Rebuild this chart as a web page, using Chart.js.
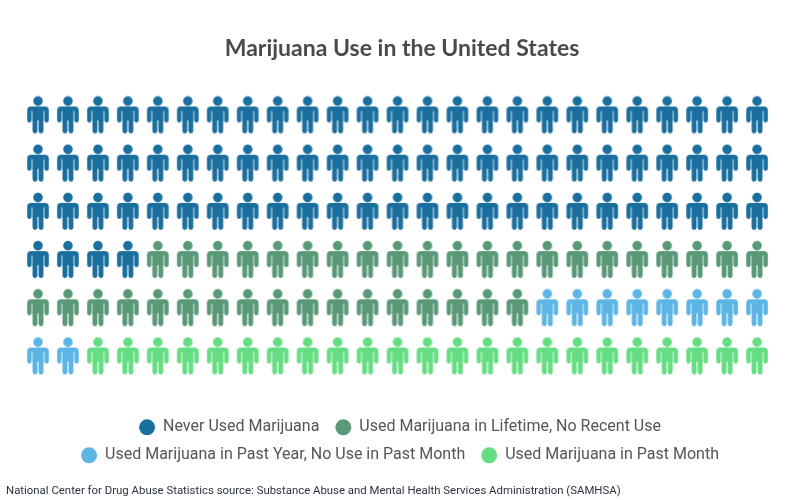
<!DOCTYPE html>
<html><head><meta charset="utf-8">
<style>html,body{margin:0;padding:0;background:#fff}#wrap{width:800px;height:500px}</style>
<script src="https://cdn.jsdelivr.net/npm/chart.js@4"></script>
</head><body><div id="wrap"><canvas id="c" width="800" height="500"></canvas></div>
<script>
const categories = ["Never Used Marijuana","Used Marijuana in Lifetime, No Recent Use","Used Marijuana in Past Year, No Use in Past Month","Used Marijuana in Past Month"];
const personCounts = [79,38,10,23];
const colors = ["#1b6f9f","#5a9977","#5db5e5","#65dd82"];
const titleText = "Marijuana Use in the United States";
const footerText = "National Center for Drug Abuse Statistics source: Substance Abuse and Mental Health Services Administration (SAMHSA)";
const perRow = 25;

function icon(color){
  const W=24,H=40,c=document.createElement('canvas');c.width=W;c.height=H;
  const g=c.getContext('2d');g.fillStyle=color;g.strokeStyle=color;g.lineCap='round';g.lineJoin='round';
  g.beginPath();g.arc(12,5.6,4.8,0,Math.PI*2);g.fill();
  g.beginPath();g.moveTo(6.4,11);g.lineTo(17.6,11);g.lineTo(17.6,25);g.lineTo(6.4,25);g.closePath();g.fill();
  g.lineWidth=4.4;
  g.beginPath();g.moveTo(3.4,24.8);g.lineTo(3.4,14.7);g.quadraticCurveTo(3.4,13.2,5,13.2);g.lineTo(19,13.2);g.quadraticCurveTo(20.6,13.2,20.6,14.7);g.lineTo(20.6,24.8);g.stroke();
  g.lineWidth=4.9;
  g.beginPath();g.moveTo(9,24);g.lineTo(9,35.6);g.stroke();
  g.beginPath();g.moveTo(15,24);g.lineTo(15,35.6);g.stroke();
  return c;
}
let n=0;
const datasets=categories.map((label,i)=>{
  const data=[];
  for(let k=0;k<personCounts[i];k++,n++) data.push({x:n%perRow+1,y:Math.floor(n/perRow)+1});
  return {label,data,pointStyle:icon(colors[i]),backgroundColor:colors[i],borderColor:colors[i],showLine:false};
});
Chart.defaults.devicePixelRatio=1;
new Chart(document.getElementById('c'),{
  type:'scatter',
  data:{datasets},
  plugins:[{id:'footerShift',afterLayout(ch){const b=ch.boxes.find(x=>x.options&&x.options.text===footerText);if(b)b.left-=2;}}],
  options:{
    responsive:false,animation:false,
    layout:{padding:{left:8,right:4,top:24,bottom:2}},
    plugins:{
      tooltip:{enabled:false},
      title:{display:true,text:titleText,color:'#4a4a4a',font:{family:'Lato',size:23,weight:'bold'},padding:{top:11,bottom:31}},
      subtitle:{display:true,position:'bottom',align:'start',text:footerText,color:'#2b3340',font:{family:'Roboto',size:11.4},padding:{top:11,bottom:0}},
      legend:{position:'bottom',labels:{usePointStyle:true,boxWidth:16,boxHeight:11.3,padding:12,color:'#555',font:{family:'Roboto',size:16},
        generateLabels:ch=>ch.data.datasets.map((d,i)=>({text:d.label+' ',fillStyle:d.backgroundColor,strokeStyle:d.backgroundColor,lineWidth:0,pointStyle:'circle',datasetIndex:i,fontColor:'#555'}))}}
    },
    scales:{
      x:{display:false,min:0,max:26.267},
      y:{display:false,min:0.546,max:7.054,reverse:true}
    }
  }
});
</script></body></html>
